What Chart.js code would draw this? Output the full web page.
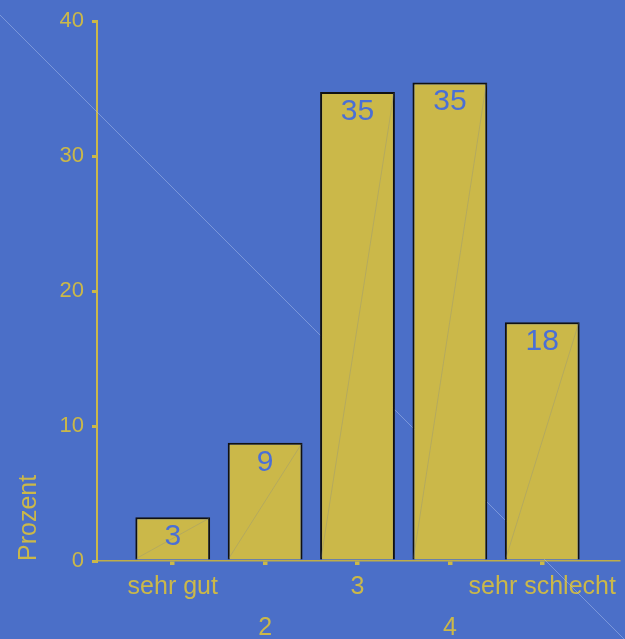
<!DOCTYPE html>
<html>
<head>
<meta charset="utf-8">
<script src="https://cdn.jsdelivr.net/npm/chart.js@4.4.1/dist/chart.umd.min.js"></script>
<style>
  html, body { margin: 0; padding: 0; background: #4b6fc8; }
  #wrap { width: 625px; height: 639px; }
</style>
</head>
<body>
<div id="wrap"><canvas id="chart"></canvas></div>
<script>
// Bewertung: Anteil in Prozent je Note
const categories = ['sehr gut', '2', '3', '4', 'sehr schlecht'];
const positions = [1, 2, 3, 4, 5];
const percent = [3.24, 8.76, 34.76, 35.46, 17.7];
const yTicks = [0, 10, 20, 30, 40];

const gold = '#cbb849';
const labelBlue = '#4a6fd6';

// faint diagonal behind the plot, and hairlines across each bar
const seams = {
    id: 'seams',
    beforeDatasetsDraw(chart) {
        const ctx = chart.ctx;
        ctx.save();
        ctx.strokeStyle = 'rgba(170,190,235,0.5)';
        ctx.lineWidth = 1;
        ctx.beginPath();
        ctx.moveTo(0, 15);
        ctx.lineTo(chart.width, chart.height + 1);
        ctx.stroke();
        ctx.restore();
    },
    afterDatasetsDraw(chart) {
        const ctx = chart.ctx;
        const meta = chart.getDatasetMeta(0);
        ctx.save();
        ctx.strokeStyle = 'rgba(120,130,150,0.35)';
        ctx.lineWidth = 0.8;
        meta.data.forEach(bar => {
            const half = bar.width / 2;
            ctx.beginPath();
            ctx.moveTo(bar.x - half + 1, bar.base - 1);
            ctx.lineTo(bar.x + half - 1, bar.y + 1);
            ctx.stroke();
        });
        // value labels inside the bar tops
        ctx.fillStyle = labelBlue;
        ctx.font = '30px "Liberation Sans", Arial, sans-serif';
        ctx.textAlign = 'center';
        ctx.textBaseline = 'alphabetic';
        meta.data.forEach((bar, i) => {
            ctx.fillText(String(Math.round(percent[i])), bar.x, bar.y + 28);
        });
        ctx.restore();
    }
};

new Chart(document.getElementById('chart').getContext('2d'), {
    type: 'bar',
    data: {
        datasets: [{
            data: positions.map((x, i) => ({ x: x, y: percent[i] })),
            backgroundColor: gold,
            borderColor: '#111111',
            borderWidth: 2,
            borderSkipped: 'bottom',
            barPercentage: 0.81,
            categoryPercentage: 1
        }]
    },
    options: {
        responsive: true,
        maintainAspectRatio: false,
        animation: false,
        layout: { padding: { top: 21, right: 7, left: 0, bottom: 0 } },
        plugins: {
            legend: { display: false },
            tooltip: { enabled: false }
        },
        scales: {
            x: {
                type: 'linear',
                min: 0.18,
                max: 5.82,
                offset: false,
                afterBuildTicks: scale => {
                    scale.ticks = positions.map(v => ({ value: v }));
                },
                afterFit: scale => { scale.height = 78; },
                ticks: {
                    color: gold,
                    padding: 2,
                    maxRotation: 0,
                    autoSkip: false,
                    font: { family: '"Liberation Sans", Arial, sans-serif', size: 25, lineHeight: 1.64 },
                    callback: value => {
                        const i = positions.indexOf(value);
                        if (i < 0) return '';
                        return i % 2 === 1 ? ['', categories[i]] : categories[i];
                    }
                },
                grid: {
                    offset: false,
                    drawOnChartArea: false,
                    tickLength: 4,
                    lineWidth: 4.5,
                    color: gold
                },
                border: { display: true, color: '#bfae48', width: 1.5 }
            },
            y: {
                min: 0,
                max: 40,
                afterBuildTicks: scale => {
                    scale.ticks = yTicks.map(v => ({ value: v }));
                },
                afterFit: scale => { scale.width = 97; },
                ticks: {
                    color: gold,
                    padding: 8,
                    font: { family: '"Liberation Sans", Arial, sans-serif', size: 22 }
                },
                grid: {
                    drawOnChartArea: false,
                    tickLength: 5,
                    lineWidth: 3,
                    color: gold
                },
                border: { display: true, color: gold, width: 2 },
                title: {
                    display: true,
                    text: 'Prozent',
                    align: 'start',
                    color: gold,
                    padding: { top: 14, bottom: 0 },
                    font: { family: '"Liberation Sans", Arial, sans-serif', size: 25 }
                }
            }
        }
    },
    plugins: [seams]
});
</script>
</body>
</html>
